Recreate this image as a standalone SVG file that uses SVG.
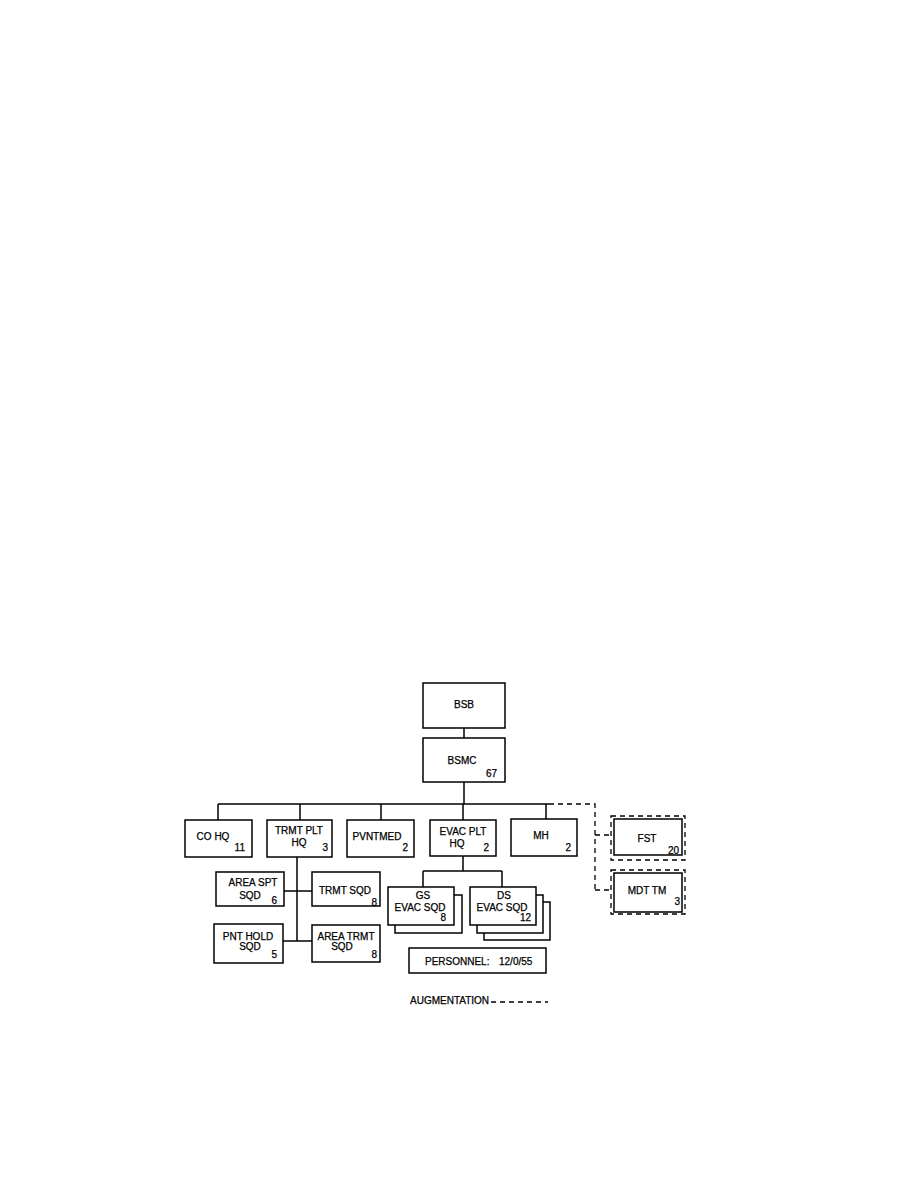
<svg xmlns="http://www.w3.org/2000/svg" width="923" height="1188" viewBox="0 0 923 1188">
<style>
.b{fill:#fff;stroke:#000;stroke-width:1.5}
.d{fill:none;stroke:#000;stroke-width:1.3;stroke-dasharray:5 4}
.c{fill:none;stroke:#000;stroke-width:1.5}
text{font-family:"Liberation Sans",Arial,sans-serif;font-size:10px;fill:#000;stroke:#000;stroke-width:0.25}
.m{text-anchor:middle}
.r{text-anchor:end}
</style>
<rect width="923" height="1188" fill="#fff"/>
<g id="connectors">
<path class="c" d="M464 728V738M464 782V804M218 804H549M218 804V820M300 804V820M381 804V820M463 804V820M546 804V820"/>
<path class="c" d="M297 857V941M284 891H312M283 941H312"/>
<path class="c" d="M463 856V871M423 871H502M423 871V887M502 871V887"/>
<path class="d" d="M549 804H595V890M595 835H611M595 890H611"/>
</g>
<g id="bsb"><rect class="b" x="423" y="683" width="82" height="45"/><text class="m" x="464" y="708">BSB</text></g>
<g id="bsmc"><rect class="b" x="423" y="738" width="82" height="44"/><text class="m" x="462" y="764">BSMC</text><text class="r" x="497" y="777">67</text></g>
<g id="cohq"><rect class="b" x="185" y="820" width="67" height="37"/><text class="m" x="213" y="840">CO HQ</text><text class="r" x="245" y="851">11</text></g>
<g id="trmtplthq"><rect class="b" x="267" y="820" width="65" height="37"/><text class="m" x="299" y="834">TRMT PLT</text><text class="m" x="299" y="846">HQ</text><text class="r" x="328" y="851">3</text></g>
<g id="pvntmed"><rect class="b" x="347" y="820" width="67" height="37"/><text class="m" x="377" y="840">PVNTMED</text><text class="r" x="408" y="851">2</text></g>
<g id="evacplthq"><rect class="b" x="430" y="820" width="66" height="36"/><text class="m" x="463" y="835">EVAC PLT</text><text class="m" x="457" y="847">HQ</text><text class="r" x="489" y="851">2</text></g>
<g id="mh"><rect class="b" x="511" y="819" width="66" height="37"/><text class="m" x="541" y="839">MH</text><text class="r" x="571" y="851">2</text></g>
<g id="fst"><rect class="d" x="611" y="816" width="74" height="44"/><rect class="b" x="614" y="819" width="68" height="36"/><text class="m" x="647" y="842">FST</text><text class="r" x="679" y="854">20</text></g>
<g id="mdttm"><rect class="d" x="611" y="870" width="74" height="44"/><rect class="b" x="614" y="873" width="68" height="39"/><text class="m" x="647" y="894">MDT TM</text><text class="r" x="680" y="905">3</text></g>
<g id="areasptsqd"><rect class="b" x="216" y="872" width="68" height="34"/><text class="m" x="253" y="886">AREA SPT</text><text class="m" x="250" y="899">SQD</text><text class="r" x="277" y="904">6</text></g>
<g id="trmtsqd"><rect class="b" x="312" y="872" width="68" height="34"/><text class="m" x="345" y="894">TRMT SQD</text><text class="r" x="377" y="906">8</text></g>
<g id="pntholdsqd"><rect class="b" x="214" y="924" width="69" height="39"/><text class="m" x="248" y="940">PNT HOLD</text><text class="m" x="250" y="950">SQD</text><text class="r" x="277" y="958">5</text></g>
<g id="areatrmtsqd"><rect class="b" x="312" y="925" width="68" height="37"/><text class="m" x="346" y="940">AREA TRMT</text><text class="m" x="342" y="950">SQD</text><text class="r" x="377" y="958">8</text></g>
<g id="gsevacsqd"><rect class="b" x="395" y="895" width="67" height="38"/><rect class="b" x="388" y="887" width="66" height="38"/><text class="m" x="423" y="899">GS</text><text class="m" x="420" y="911">EVAC SQD</text><text class="r" x="446" y="921">8</text></g>
<g id="dsevacsqd"><rect class="b" x="484" y="902" width="66" height="38"/><rect class="b" x="477" y="895" width="66" height="38"/><rect class="b" x="470" y="887" width="66" height="38"/><text class="m" x="504" y="899">DS</text><text class="m" x="502" y="911">EVAC SQD</text><text class="r" x="531" y="921">12</text></g>
<g id="personnel"><rect class="b" x="409" y="948" width="137" height="25"/><text x="425" y="965">PERSONNEL:</text><text x="499" y="965">12/0/55</text></g>
<g id="legend"><text x="410" y="1004">AUGMENTATION</text><path class="d" d="M491 1002H548"/></g>
</svg>
